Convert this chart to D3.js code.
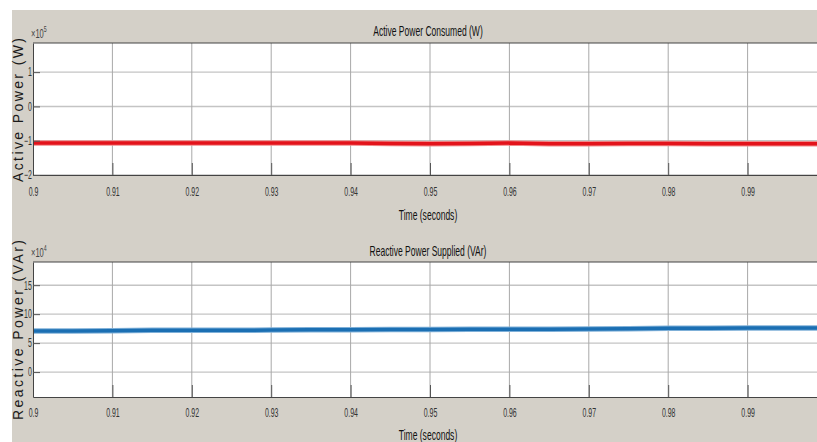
<!DOCTYPE html>
<html>
<head>
<meta charset="utf-8">
<script src="https://cdn.jsdelivr.net/npm/d3@7"></script>
<style>
  html, body { margin: 0; padding: 0; background: #ffffff; }
  svg { display: block; }
  text { font-family: "Liberation Sans", Arial, sans-serif; }
</style>
</head>
<body>
<svg id="chart" width="817" height="442"></svg>
<script>
// Sample times (s)
const time = [0.900, 0.905, 0.910, 0.915, 0.920, 0.925, 0.930, 0.935, 0.940, 0.945,
              0.950, 0.955, 0.960, 0.965, 0.970, 0.975, 0.980, 0.985, 0.990, 0.995, 1.000];

// Active power consumed, in units of 1e5 W
const activePower = [-1.07, -1.07, -1.07, -1.07, -1.07, -1.07, -1.07, -1.07, -1.07, -1.08,
                     -1.09, -1.08, -1.07, -1.09, -1.09, -1.08, -1.08, -1.09, -1.09, -1.09, -1.09];

// Reactive power supplied, in units of 1e4 VAr
const reactivePower = [7.1, 7.1, 7.15, 7.2, 7.2, 7.2, 7.25, 7.3, 7.3, 7.35,
                       7.35, 7.4, 7.4, 7.4, 7.45, 7.5, 7.55, 7.55, 7.6, 7.6, 7.6];

const xTicks = [0.90, 0.91, 0.92, 0.93, 0.94, 0.95, 0.96, 0.97, 0.98, 0.99];
const xTickLabels = ["0.9", "0.91", "0.92", "0.93", "0.94", "0.95", "0.96", "0.97", "0.98", "0.99"];
const activeTicks = [-2, -1, 0, 1];
const reactiveTicks = [0, 5, 10, 15];

const LABEL_SQUEEZE = 0.61;  // condensed look of titles / axis labels
const TICK_SQUEEZE = 0.58;   // condensed look of tick labels
const svg = d3.select("#chart");

// Figure background panel
svg.append("rect")
  .attr("x", 12).attr("y", 10)
  .attr("width", 830).attr("height", 440)
  .attr("fill", "#d4d0c8");

// Condensed text placed at (x, y)
function narrowText(parent, x, y, str, size, anchor, fill, squeeze) {
  return parent.append("g").attr("transform", `translate(${x},${y})`)
    .append("text")
    .attr("transform", `scale(${squeeze},1)`)
    .attr("text-anchor", anchor).attr("font-size", size).attr("fill", fill)
    .text(str);
}

function drawPanel(cfg) {
  const x = d3.scaleLinear().domain([0.9, 1.0]).range([33, 827]);
  const y = d3.scaleLinear().domain(cfg.yDomain).range([cfg.bottom, cfg.top]);
  const g = svg.append("g");

  // plot area
  g.append("rect")
    .attr("x", x(0.9)).attr("y", cfg.top)
    .attr("width", x(1.0) - x(0.9)).attr("height", cfg.bottom - cfg.top)
    .attr("fill", "#ffffff");

  // grid
  g.selectAll(".hg").data(cfg.yTicks).join("line")
    .attr("x1", x(0.9)).attr("x2", x(1.0))
    .attr("y1", d => y(d)).attr("y2", d => y(d))
    .attr("stroke", "#c4c4c4").attr("stroke-width", 1.4);
  g.selectAll(".vg").data(xTicks.slice(1)).join("line")
    .attr("x1", d => x(d)).attr("x2", d => x(d))
    .attr("y1", cfg.top).attr("y2", cfg.bottom)
    .attr("stroke", "#a8a8a8").attr("stroke-width", 1);

  // data line
  const line = d3.line().x(d => x(d[0])).y(d => y(d[1]));
  const pts = time.map((t, i) => [t, cfg.values[i]]);
  g.append("path").datum(pts).attr("d", line)
    .attr("fill", "none").attr("stroke", cfg.halo).attr("stroke-width", 5.5);
  g.append("path").datum(pts).attr("d", line)
    .attr("fill", "none").attr("stroke", cfg.color).attr("stroke-width", 3.5);

  // axes with inward ticks
  const xAxis = d3.axisBottom(x).tickValues(xTicks)
    .tickFormat((d, i) => xTickLabels[i]).tickSizeInner(-12).tickSizeOuter(0).tickPadding(cfg.xTickPad);
  const gx = g.append("g").attr("transform", `translate(0,${cfg.bottom})`).call(xAxis);
  gx.select(".domain").attr("stroke", "#444");
  gx.selectAll(".tick line").attr("stroke", "#555");
  gx.selectAll("text").attr("font-size", 12).attr("fill", "#333")
    .attr("transform", `scale(${TICK_SQUEEZE},1)`);

  const yAxis = d3.axisLeft(y).tickValues(cfg.yTicks).tickFormat(d3.format("d"))
    .tickSizeInner(-7).tickSizeOuter(0).tickPadding(2);
  const gy = g.append("g").attr("transform", `translate(${x(0.9)},0)`).call(yAxis);
  gy.select(".domain").attr("stroke", "#444");
  gy.selectAll(".tick line").attr("stroke", "#555");
  gy.selectAll("text").attr("font-size", 12).attr("fill", "#333")
    .attr("transform", `scale(${TICK_SQUEEZE},1)`);

  // top box edge
  g.append("line")
    .attr("x1", x(0.9)).attr("x2", x(1.0))
    .attr("y1", cfg.top).attr("y2", cfg.top)
    .attr("stroke", "#444");

  // exponent label
  const ex = narrowText(g, 31, cfg.top - 5, "", 13, "start", "#444", TICK_SQUEEZE);
  ex.append("tspan").text("\u00d710");
  ex.append("tspan").attr("dy", -6).attr("font-size", 9).text(cfg.exponent);

  // title and x label
  narrowText(g, 428, cfg.titleY, cfg.title, 14, "middle", "#111", LABEL_SQUEEZE);
  narrowText(g, 428, cfg.xLabelY, "Time (seconds)", 14, "middle", "#111", LABEL_SQUEEZE);

  // y label
  g.append("text")
    .attr("transform", `translate(23,${cfg.yLabelCenter}) rotate(-90)`)
    .attr("text-anchor", "middle").attr("font-size", 14).attr("fill", "#1a1a1a")
    .attr("textLength", cfg.yLabelLength).attr("lengthAdjust", "spacing")
    .text(cfg.yLabel);
}

drawPanel({
  top: 43, bottom: 175, yDomain: [-2, 1.85], yTicks: activeTicks,
  values: activePower, color: "#e3131b", halo: "#f08a8a",
  title: "Active Power Consumed (W)", exponent: "5",
  titleY: 36, xLabelY: 220, xTickPad: 12,
  yLabel: "Active Power (W)", yLabelCenter: 110, yLabelLength: 144
});

drawPanel({
  top: 262, bottom: 397, yDomain: [-4.3, 19], yTicks: reactiveTicks,
  values: reactivePower, color: "#1b6fb3", halo: "#7fb0d8",
  title: "Reactive Power Supplied (VAr)", exponent: "4",
  titleY: 256, xLabelY: 440, xTickPad: 11,
  yLabel: "Reactive Power (VAr)", yLabelCenter: 330, yLabelLength: 180
});
</script>
</body>
</html>
